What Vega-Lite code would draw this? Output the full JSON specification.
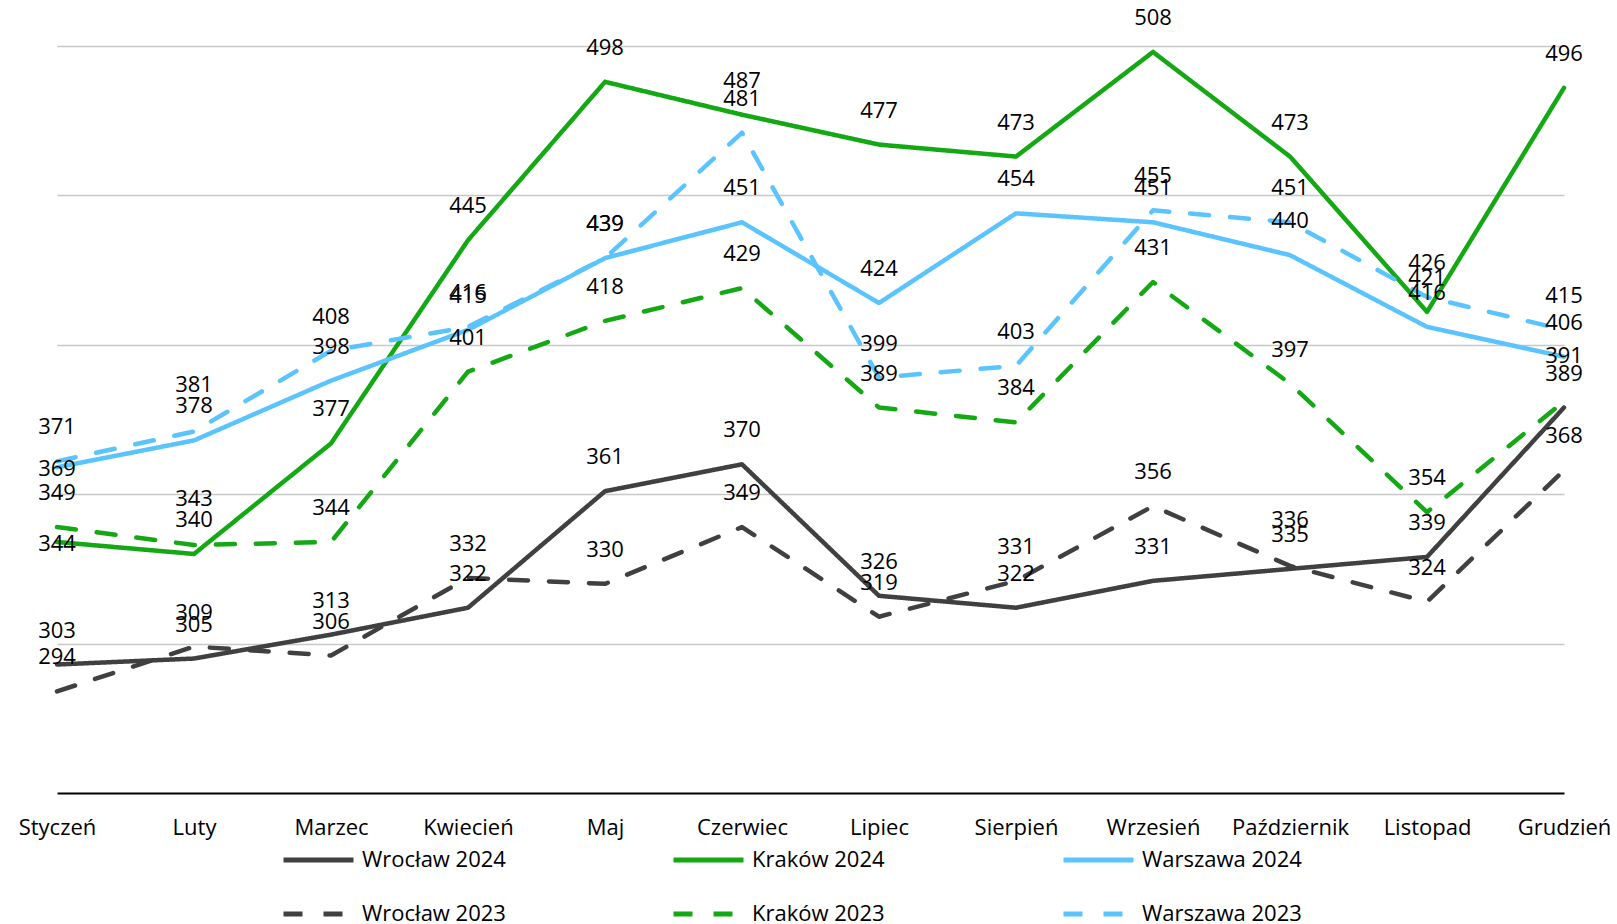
{
  "$schema": "https://vega.github.io/schema/vega-lite/v6.json",
  "width": 1507,
  "height": 747,
  "autosize": {"type": "none"},
  "padding": {"left": 57, "top": 46, "right": 53, "bottom": 131},
  "background": "white",
  "config": {"view": {"stroke": null}, "font": "Open Sans"},
  "data": {
    "values": [
      {"series": "Wrocław 2024", "month": "Styczeń", "value": 303},
      {"series": "Wrocław 2024", "month": "Luty", "value": 305},
      {"series": "Wrocław 2024", "month": "Marzec", "value": 313},
      {"series": "Wrocław 2024", "month": "Kwiecień", "value": 322},
      {"series": "Wrocław 2024", "month": "Maj", "value": 361},
      {"series": "Wrocław 2024", "month": "Czerwiec", "value": 370},
      {"series": "Wrocław 2024", "month": "Lipiec", "value": 326},
      {"series": "Wrocław 2024", "month": "Sierpień", "value": 322},
      {"series": "Wrocław 2024", "month": "Wrzesień", "value": 331},
      {"series": "Wrocław 2024", "month": "Październik", "value": 335},
      {"series": "Wrocław 2024", "month": "Listopad", "value": 339},
      {"series": "Wrocław 2024", "month": "Grudzień", "value": 389},
      {"series": "Kraków 2024", "month": "Styczeń", "value": 344},
      {"series": "Kraków 2024", "month": "Luty", "value": 340},
      {"series": "Kraków 2024", "month": "Marzec", "value": 377},
      {"series": "Kraków 2024", "month": "Kwiecień", "value": 445},
      {"series": "Kraków 2024", "month": "Maj", "value": 498},
      {"series": "Kraków 2024", "month": "Czerwiec", "value": 487},
      {"series": "Kraków 2024", "month": "Lipiec", "value": 477},
      {"series": "Kraków 2024", "month": "Sierpień", "value": 473},
      {"series": "Kraków 2024", "month": "Wrzesień", "value": 508},
      {"series": "Kraków 2024", "month": "Październik", "value": 473},
      {"series": "Kraków 2024", "month": "Listopad", "value": 421},
      {"series": "Kraków 2024", "month": "Grudzień", "value": 496},
      {"series": "Warszawa 2024", "month": "Styczeń", "value": 369},
      {"series": "Warszawa 2024", "month": "Luty", "value": 378},
      {"series": "Warszawa 2024", "month": "Marzec", "value": 398},
      {"series": "Warszawa 2024", "month": "Kwiecień", "value": 415},
      {"series": "Warszawa 2024", "month": "Maj", "value": 439},
      {"series": "Warszawa 2024", "month": "Czerwiec", "value": 451},
      {"series": "Warszawa 2024", "month": "Lipiec", "value": 424},
      {"series": "Warszawa 2024", "month": "Sierpień", "value": 454},
      {"series": "Warszawa 2024", "month": "Wrzesień", "value": 451},
      {"series": "Warszawa 2024", "month": "Październik", "value": 440},
      {"series": "Warszawa 2024", "month": "Listopad", "value": 416},
      {"series": "Warszawa 2024", "month": "Grudzień", "value": 406},
      {"series": "Wrocław 2023", "month": "Styczeń", "value": 294},
      {"series": "Wrocław 2023", "month": "Luty", "value": 309},
      {"series": "Wrocław 2023", "month": "Marzec", "value": 306},
      {"series": "Wrocław 2023", "month": "Kwiecień", "value": 332},
      {"series": "Wrocław 2023", "month": "Maj", "value": 330},
      {"series": "Wrocław 2023", "month": "Czerwiec", "value": 349},
      {"series": "Wrocław 2023", "month": "Lipiec", "value": 319},
      {"series": "Wrocław 2023", "month": "Sierpień", "value": 331},
      {"series": "Wrocław 2023", "month": "Wrzesień", "value": 356},
      {"series": "Wrocław 2023", "month": "Październik", "value": 336},
      {"series": "Wrocław 2023", "month": "Listopad", "value": 324},
      {"series": "Wrocław 2023", "month": "Grudzień", "value": 368},
      {"series": "Kraków 2023", "month": "Styczeń", "value": 349},
      {"series": "Kraków 2023", "month": "Luty", "value": 343},
      {"series": "Kraków 2023", "month": "Marzec", "value": 344},
      {"series": "Kraków 2023", "month": "Kwiecień", "value": 401},
      {"series": "Kraków 2023", "month": "Maj", "value": 418},
      {"series": "Kraków 2023", "month": "Czerwiec", "value": 429},
      {"series": "Kraków 2023", "month": "Lipiec", "value": 389},
      {"series": "Kraków 2023", "month": "Sierpień", "value": 384},
      {"series": "Kraków 2023", "month": "Wrzesień", "value": 431},
      {"series": "Kraków 2023", "month": "Październik", "value": 397},
      {"series": "Kraków 2023", "month": "Listopad", "value": 354},
      {"series": "Kraków 2023", "month": "Grudzień", "value": 391},
      {"series": "Warszawa 2023", "month": "Styczeń", "value": 371},
      {"series": "Warszawa 2023", "month": "Luty", "value": 381},
      {"series": "Warszawa 2023", "month": "Marzec", "value": 408},
      {"series": "Warszawa 2023", "month": "Kwiecień", "value": 416},
      {"series": "Warszawa 2023", "month": "Maj", "value": 439},
      {"series": "Warszawa 2023", "month": "Czerwiec", "value": 481},
      {"series": "Warszawa 2023", "month": "Lipiec", "value": 399},
      {"series": "Warszawa 2023", "month": "Sierpień", "value": 403},
      {"series": "Warszawa 2023", "month": "Wrzesień", "value": 455},
      {"series": "Warszawa 2023", "month": "Październik", "value": 451},
      {"series": "Warszawa 2023", "month": "Listopad", "value": 426},
      {"series": "Warszawa 2023", "month": "Grudzień", "value": 415}
    ]
  },
  "encoding": {
    "x": {
      "field": "month",
      "type": "ordinal",
      "sort": ["Styczeń", "Luty", "Marzec", "Kwiecień", "Maj", "Czerwiec", "Lipiec", "Sierpień", "Wrzesień", "Październik", "Listopad", "Grudzień"],
      "scale": {"type": "point", "padding": 0},
      "axis": {
        "title": null,
        "domainColor": "#000000",
        "domainWidth": 2,
        "ticks": false,
        "tickSize": 0,
        "labelAngle": 0,
        "labelFont": "Open Sans",
        "labelFontSize": 22,
        "labelColor": "#000000",
        "labelPadding": 41,
        "labelBaseline": "alphabetic",
        "grid": false
      }
    },
    "y": {
      "field": "value",
      "type": "quantitative",
      "scale": {"domain": [260, 510], "nice": false, "zero": false},
      "axis": {
        "title": null,
        "values": [310, 360, 410, 460, 510],
        "labels": false,
        "ticks": false,
        "domain": false,
        "grid": true,
        "gridColor": "#c8c8c8",
        "gridWidth": 1.3
      }
    }
  },
  "layer": [
    {
      "mark": {"type": "line", "strokeWidth": 4.5, "strokeCap": "round", "strokeJoin": "round"},
      "encoding": {
        "color": {
          "field": "series",
          "type": "nominal",
          "scale": {
            "domain": ["Wrocław 2024", "Kraków 2024", "Warszawa 2024", "Wrocław 2023", "Kraków 2023", "Warszawa 2023"],
            "range": ["#404040", "#14a814", "#5bc4fe", "#404040", "#14a814", "#5bc4fe"]
          },
          "legend": {
            "title": null,
            "orient": "none",
            "legendX": 224,
            "legendY": 801,
            "columns": 3,
            "direction": "horizontal",
            "gridAlign": "all",
            "symbolType": "stroke",
            "symbolSize": 4900,
            "symbolStrokeWidth": 5,
            "clipHeight": 26,
            "rowPadding": 28,
            "columnPadding": 149,
            "labelFont": "Open Sans",
            "labelFontSize": 22,
            "labelColor": "#000000",
            "labelOffset": 6,
            "padding": 0,
            "symbolOffset": 0,
            "labelLimit": 400
          }
        },
        "strokeDash": {
          "field": "series",
          "type": "nominal",
          "scale": {
            "domain": ["Wrocław 2024", "Kraków 2024", "Warszawa 2024", "Wrocław 2023", "Kraków 2023", "Warszawa 2023"],
            "range": [[1, 0], [1, 0], [1, 0], [19, 21], [19, 21], [19, 21]]
          },
          "legend": {
            "title": null,
            "orient": "none",
            "legendX": 224,
            "legendY": 801,
            "columns": 3,
            "direction": "horizontal",
            "gridAlign": "all",
            "symbolType": "stroke",
            "symbolSize": 4900,
            "symbolStrokeWidth": 5,
            "clipHeight": 26,
            "rowPadding": 28,
            "columnPadding": 149,
            "labelFont": "Open Sans",
            "labelFontSize": 22,
            "labelColor": "#000000",
            "labelOffset": 6,
            "padding": 0,
            "symbolOffset": 0,
            "labelLimit": 400
          }
        }
      }
    },
    {
      "transform": [{"filter": "!(datum.month == 'Styczeń' && (datum.series == 'Warszawa 2024' || datum.series == 'Kraków 2024')) && !(datum.month == 'Luty' && (datum.series == 'Warszawa 2023' || datum.series == 'Kraków 2023')) && !(datum.month == 'Październik' && datum.series == 'Wrocław 2023') && !(datum.month == 'Grudzień' && datum.series == 'Kraków 2023')"}],
      "mark": {"type": "text", "font": "Open Sans", "fontSize": 22, "color": "#000000", "baseline": "alphabetic", "dy": -27},
      "encoding": {"text": {"field": "value", "type": "quantitative"}}
    },
    {
      "transform": [{"filter": "(datum.month == 'Luty' && (datum.series == 'Warszawa 2023' || datum.series == 'Kraków 2023')) || (datum.month == 'Październik' && datum.series == 'Wrocław 2023') || (datum.month == 'Grudzień' && datum.series == 'Kraków 2023')"}],
      "mark": {"type": "text", "font": "Open Sans", "fontSize": 22, "color": "#000000", "baseline": "alphabetic", "dy": -39},
      "encoding": {"text": {"field": "value", "type": "quantitative"}}
    },
    {
      "transform": [{"filter": "datum.month == 'Styczeń' && (datum.series == 'Warszawa 2024' || datum.series == 'Kraków 2024')"}],
      "mark": {"type": "text", "font": "Open Sans", "fontSize": 22, "color": "#000000", "baseline": "middle", "dy": 2},
      "encoding": {"text": {"field": "value", "type": "quantitative"}}
    }
  ]
}
